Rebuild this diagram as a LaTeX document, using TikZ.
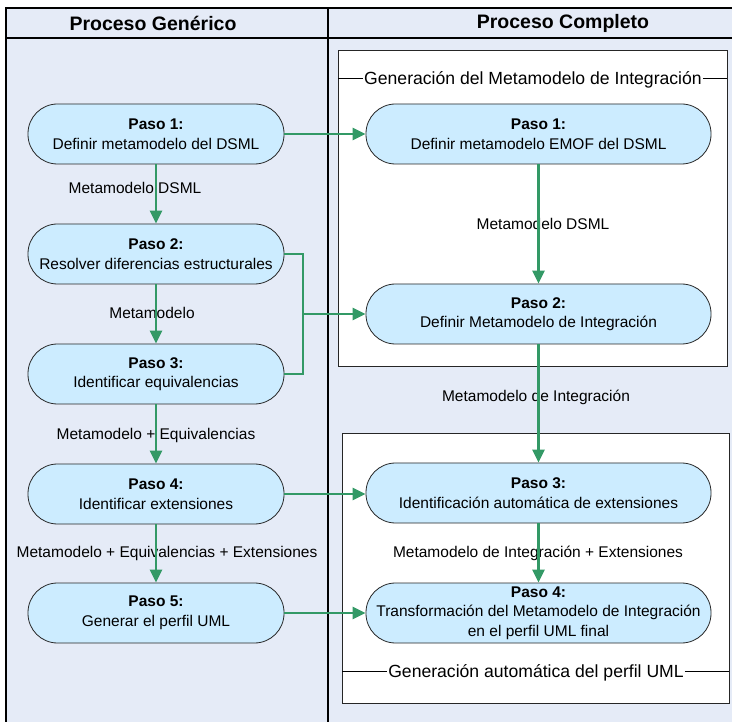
\documentclass[tikz,border=0pt]{standalone}
\usepackage{fontspec}
\setmainfont{Liberation Sans}
\usetikzlibrary{arrows.meta}

\definecolor{lanebg}{RGB}{229,235,247}
\definecolor{stepfill}{RGB}{204,236,255}
\definecolor{flow}{RGB}{51,153,102}

\tikzset{
  stepbox/.style={draw=black!85, line width=0.8pt, fill=stepfill,
    rounded corners=29.5pt, minimum height=60pt, align=center, inner sep=0pt,
    font=\fontsize{15.5}{19.5}\selectfont},
  leftstep/.style={stepbox, minimum width=256pt},
  rightstep/.style={stepbox, minimum width=345pt},
  flowarrow/.style={draw=flow, line width=2.5pt,
    -{Triangle[length=13pt,width=12pt]}},
  flowline/.style={draw=flow, line width=2.5pt},
  lbl/.style={font=\fontsize{15.5}{19.5}\selectfont, inner sep=0pt},
  hdr/.style={font=\fontsize{19.5}{22}\selectfont\bfseries, inner sep=0pt},
  grouplbl/.style={font=\fontsize{17.6}{21}\selectfont, fill=white, inner sep=1pt},
  frame/.style={line width=1.3pt, draw=black},
  groupbox/.style={draw=black!85, line width=1pt, fill=white},
}

\begin{document}
\begin{tikzpicture}[x=1pt, y=-1pt]
\useasboundingbox (0,0) rectangle (732,722);

% swimlane background and frame
\fill[lanebg] (6,8) rectangle (732,722);
\draw[frame] (6,722) -- (6,8) -- (732,8);
\draw[frame] (6,38) -- (732,38);
\draw[frame] (328,8) -- (328,722);
\node[hdr] (hgen) at (153,23) {Proceso Genérico};
\node[hdr] (hcom) at (563,23) {Proceso Completo};

% group boxes of the complete process
\draw[groupbox] (338,51) rectangle (727,367);
\node[grouplbl] (gtop) at (533,80) {Generación del Metamodelo de Integración};
\draw[line width=0.8pt] (338,78) -- (gtop.west |- 0,78);
\draw[line width=0.8pt] (gtop.east |- 0,78) -- (727,78);

\draw[groupbox] (342,434) rectangle (729,703);
\node[grouplbl] (gbot) at (536,673) {Generación automática del perfil UML};
\draw[line width=0.8pt] (342,671) -- (gbot.west |- 0,671);
\draw[line width=0.8pt] (gbot.east |- 0,671) -- (729,671);

% generic process steps
\node[leftstep] (g1) at (156,134) {\textbf{Paso 1:}\\Definir metamodelo del DSML};
\node[leftstep] (g2) at (156,254) {\textbf{Paso 2:}\\Resolver diferencias estructurales};
\node[leftstep] (g3) at (156,374) {\textbf{Paso 3:}\\Identificar equivalencias};
\node[leftstep] (g4) at (156,494) {\textbf{Paso 4:}\\Identificar extensiones};
\node[leftstep] (g5) at (156,613) {\textbf{Paso 5:}\\Generar el perfil UML};

% complete process steps
\node[rightstep] (c1) at (538.5,134) {\textbf{Paso 1:}\\Definir metamodelo EMOF del DSML};
\node[rightstep] (c2) at (538.5,314) {\textbf{Paso 2:}\\Definir Metamodelo de Integración};
\node[rightstep] (c3) at (538.5,493) {\textbf{Paso 3:}\\Identificación automática de extensiones};
\node[rightstep] (c4) at (538.5,613) {\textbf{Paso 4:}\\Transformación del Metamodelo de Integración\\en el perfil UML final};

% flow labels
\node[lbl] (l1) at (135,188) {Metamodelo DSML};
\node[lbl] (l2) at (152,313) {Metamodelo};
\node[lbl] (l3) at (156,435) {Metamodelo + Equivalencias};
\node[lbl] (l4) at (167,553) {Metamodelo + Equivalencias + Extensiones};
\node[lbl] (r1) at (543,224) {Metamodelo DSML};
\node[lbl] (r2) at (536,397) {Metamodelo de Integración};
\node[lbl] (r3) at (538,553) {Metamodelo de Integración + Extensiones};

% vertical flows
\draw[flowarrow] (g1.south) -- (g2.north);
\draw[flowarrow] (g2.south) -- (g3.north);
\draw[flowarrow] (g3.south) -- (g4.north);
\draw[flowarrow] (g4.south) -- (g5.north);
\draw[flowarrow] (c1.south) -- (c2.north);
\draw[flowarrow] (c2.south) -- (c3.north);
\draw[flowarrow] (c3.south) -- (c4.north);

% horizontal flows between the lanes
\coordinate (jn) at (303,314);
\draw[flowarrow] (g1.east) -- (c1.west);
\draw[flowline] (g2.east) -| (jn);
\draw[flowline] (g3.east) -| (jn);
\draw[flowarrow] (jn) -- (c2.west);
\draw[flowarrow] (g4.east) -- (g4.east -| c3.west);
\draw[flowarrow] (g5.east) -- (c4.west);
\end{tikzpicture}
\end{document}
